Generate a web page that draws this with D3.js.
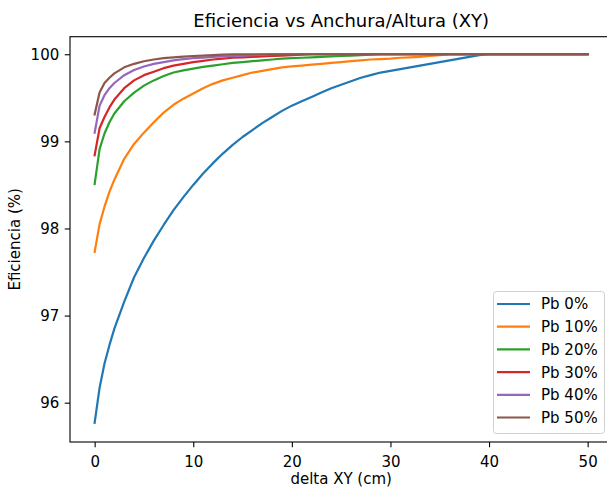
<!DOCTYPE html>
<html>
<head>
<meta charset="utf-8">
<script src="https://cdn.jsdelivr.net/npm/d3@7"></script>
<style>
  html, body { margin: 0; padding: 0; background: #fff; }
  svg { display: block; font-family: "DejaVu Sans", sans-serif; }
</style>
</head>
<body>
<svg id="chart" width="607" height="488"></svg>
<script>
// ---- data ----
const xValues = [0, 0.5, 1, 1.5, 2, 3, 4, 5, 6, 7, 8, 9, 10, 11, 12, 13, 14, 15, 16, 17, 18, 19, 20,
  21, 22, 23, 24, 25, 26, 27, 28, 29, 30, 31, 32, 33, 34, 35, 36, 37, 38, 39, 40,
  41, 42, 43, 44, 45, 46, 47, 48, 49, 50];

const pb0 = [95.77, 96.17, 96.45, 96.66, 96.85, 97.16, 97.44, 97.66, 97.86, 98.04, 98.21, 98.36, 98.50,
  98.63, 98.75, 98.86, 98.96, 99.05, 99.13, 99.21, 99.28, 99.35, 99.41, 99.46, 99.51, 99.56, 99.61,
  99.65, 99.69, 99.73, 99.76, 99.79, 99.81, 99.83, 99.85, 99.87, 99.89, 99.91, 99.93, 99.95, 99.97,
  99.99, 100, 100, 100, 100, 100, 100, 100, 100, 100, 100, 100];
const pb10 = [97.73, 98.05, 98.25, 98.42, 98.56, 98.80, 98.97, 99.10, 99.22, 99.33, 99.42, 99.49, 99.55,
  99.61, 99.66, 99.70, 99.73, 99.76, 99.79, 99.81, 99.83, 99.85, 99.86, 99.87, 99.88, 99.89, 99.90,
  99.91, 99.92, 99.93, 99.94, 99.945, 99.95, 99.96, 99.965, 99.97, 99.98, 99.99, 100, 100, 100,
  100, 100, 100, 100, 100, 100, 100, 100, 100, 100, 100, 100];
const pb20 = [98.51, 98.91, 99.09, 99.22, 99.32, 99.46, 99.56, 99.64, 99.70, 99.75, 99.79, 99.815, 99.835,
  99.855, 99.87, 99.885, 99.90, 99.91, 99.92, 99.93, 99.94, 99.95, 99.955, 99.96, 99.965, 99.97, 99.975,
  99.98, 99.985, 99.99, 99.995, 100, 100, 100, 100, 100, 100, 100, 100, 100, 100,
  100, 100, 100, 100, 100, 100, 100, 100, 100, 100, 100, 100];
const pb30 = [98.84, 99.15, 99.28, 99.39, 99.48, 99.61, 99.70, 99.76, 99.80, 99.84, 99.87, 99.89, 99.91,
  99.925, 99.94, 99.95, 99.96, 99.965, 99.97, 99.975, 99.98, 99.985, 99.99, 99.995, 100, 100, 100,
  100, 100, 100, 100, 100, 100, 100, 100, 100, 100, 100, 100, 100, 100,
  100, 100, 100, 100, 100, 100, 100, 100, 100, 100, 100, 100];
const pb40 = [99.10, 99.41, 99.53, 99.61, 99.67, 99.76, 99.82, 99.86, 99.89, 99.91, 99.93, 99.945, 99.955,
  99.962, 99.97, 99.975, 99.98, 99.985, 99.99, 99.995, 100, 100, 100, 100, 100, 100, 100,
  100, 100, 100, 100, 100, 100, 100, 100, 100, 100, 100, 100, 100, 100,
  100, 100, 100, 100, 100, 100, 100, 100, 100, 100, 100, 100];
const pb50 = [99.31, 99.56, 99.67, 99.73, 99.78, 99.85, 99.89, 99.92, 99.94, 99.955, 99.965, 99.972, 99.98,
  99.985, 99.99, 99.995, 100, 100, 100, 100, 100, 100, 100, 100, 100, 100, 100,
  100, 100, 100, 100, 100, 100, 100, 100, 100, 100, 100, 100, 100, 100,
  100, 100, 100, 100, 100, 100, 100, 100, 100, 100, 100, 100];

const seriesNames = ["Pb 0%", "Pb 10%", "Pb 20%", "Pb 30%", "Pb 40%", "Pb 50%"];
const seriesValues = [pb0, pb10, pb20, pb30, pb40, pb50];
const colors = ["#1f77b4", "#ff7f0e", "#2ca02c", "#d62728", "#9467bd", "#8c564b"];
const xTicks = [0, 10, 20, 30, 40, 50];
const yTicks = [96, 97, 98, 99, 100];

// ---- layout ----
const plot = { left: 70, right: 612.3, top: 36.7, bottom: 442 };
const FONT = 15;
const svg = d3.select("#chart");

const x = d3.scaleLinear().domain([-2.5, 52.5]).range([plot.left, plot.right]);
const y = d3.scaleLinear().domain([95.5485, 100.2015]).range([plot.bottom, plot.top]);

// lines
const line = d3.line().x(d => x(d[0])).y(d => y(d[1]));
seriesValues.forEach((vals, i) => {
  const pts = xValues.map((xv, j) => [xv, vals[j]]);
  svg.append("path")
    .attr("d", line(pts))
    .attr("fill", "none")
    .attr("stroke", colors[i])
    .attr("stroke-width", 2.2)
    .attr("stroke-linejoin", "round")
    .attr("stroke-linecap", "square");
});

// axes
const xAxis = d3.axisBottom(x).tickValues(xTicks).tickSize(5.25).tickFormat(d3.format("d"));
const gx = svg.append("g").attr("transform", `translate(0,${plot.bottom})`).call(xAxis);
gx.select(".domain").remove();
gx.selectAll("text").attr("y", 25).attr("dy", 0).attr("font-size", FONT).attr("fill", "#000")
  .attr("font-family", "DejaVu Sans, sans-serif");
gx.selectAll("line").attr("stroke", "#000").attr("stroke-width", 1.1);

const yAxis = d3.axisLeft(y).tickValues(yTicks).tickSize(5.25).tickPadding(5.5).tickFormat(d3.format("d"));
const gy = svg.append("g").attr("transform", `translate(${plot.left},0)`).call(yAxis);
gy.select(".domain").remove();
gy.selectAll("text").attr("font-size", FONT).attr("fill", "#000")
  .attr("font-family", "DejaVu Sans, sans-serif");
gy.selectAll("line").attr("stroke", "#000").attr("stroke-width", 1.1);

// spines
svg.append("rect")
  .attr("x", plot.left).attr("y", plot.top)
  .attr("width", plot.right - plot.left).attr("height", plot.bottom - plot.top)
  .attr("fill", "none").attr("stroke", "#000").attr("stroke-width", 1.1);

// title and labels
const cx = (plot.left + plot.right) / 2;
svg.append("text").attr("x", cx).attr("y", 27).attr("text-anchor", "middle")
  .attr("font-size", 18).attr("fill", "#000").text("Eficiencia vs Anchura/Altura (XY)");
svg.append("text").attr("x", cx).attr("y", 483.5).attr("text-anchor", "middle")
  .attr("font-size", FONT).attr("fill", "#000").text("delta XY (cm)");
svg.append("text")
  .attr("transform", `translate(20,${(plot.top + plot.bottom) / 2}) rotate(-90)`)
  .attr("text-anchor", "middle").attr("font-size", FONT).attr("fill", "#000").text("Eficiencia (%)");

// legend
const lg = svg.append("g");
lg.append("rect").attr("x", 493.5).attr("y", 291.5).attr("width", 111).attr("height", 142)
  .attr("rx", 3).attr("fill", "#fff").attr("fill-opacity", 0.8)
  .attr("stroke", "#d0d0d0").attr("stroke-width", 1);
seriesNames.forEach((name, i) => {
  const cy = 304 + i * 22.7;
  lg.append("line").attr("x1", 497).attr("x2", 530).attr("y1", cy).attr("y2", cy)
    .attr("stroke", colors[i]).attr("stroke-width", 2.2);
  lg.append("text").attr("x", 541).attr("y", cy).attr("dy", "0.36em")
    .attr("font-size", FONT).attr("fill", "#000").text(name);
});
</script>
</body>
</html>
